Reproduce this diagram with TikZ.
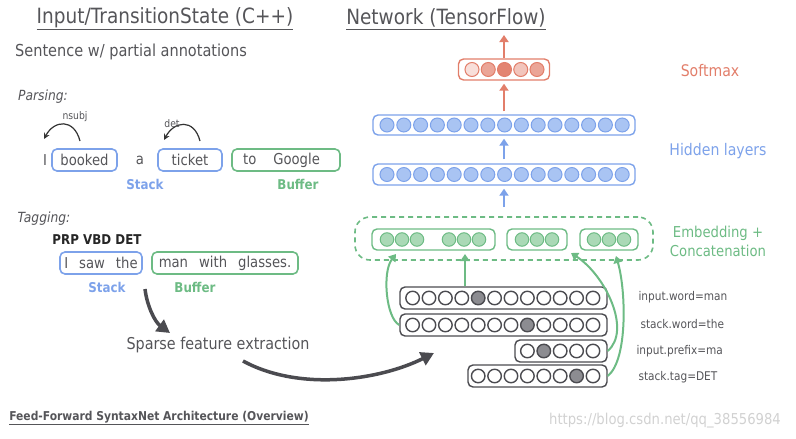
\documentclass[tikz,border=0pt]{standalone}
\usepackage{fontspec}
\setmainfont{DejaVu Sans}[FakeStretch=0.88]
\usetikzlibrary{arrows.meta}
\definecolor{txtgray}{HTML}{555559}
\definecolor{sblue}{HTML}{7DA2EA}
\definecolor{sbluefill}{HTML}{A9C4F3}
\definecolor{sgreen}{HTML}{6DBB84}
\definecolor{sgreenfill}{HTML}{AAD9B6}
\definecolor{sred}{HTML}{E27E6A}
\definecolor{dgray}{HTML}{4B4B50}
\definecolor{hot}{HTML}{8C8C91}

\begin{document}
\begin{tikzpicture}[x=1pt,y=-1pt]
      \tikzstyle{titre}=[text=txtgray, font=\fontsize{21}{24}\selectfont]
      \tikzstyle{plain}=[text=txtgray, font=\fontsize{15}{18}\selectfont]
      \tikzstyle{mot}=[text=txtgray, font=\fontsize{15}{18}\selectfont, inner sep=0pt]
      \tikzstyle{stackbox}=[draw=sblue, line width=1.6pt, rounded corners=5pt, minimum height=22pt, inner sep=0pt, text=txtgray, font=\fontsize{15}{18}\selectfont]
      \tikzstyle{bufbox}=[stackbox, draw=sgreen]
      \tikzstyle{role}=[font=\bfseries\fontsize{13.5}{16}\selectfont]
      \tikzstyle{layer}=[draw, line width=1.4pt, rounded corners=5pt, inner sep=0pt]
      \tikzstyle{neuron}=[circle, draw, line width=1pt, minimum size=14pt, inner sep=0pt]
      \tikzstyle{onehot}=[neuron, draw=dgray, line width=1.4pt, minimum size=13.5pt]
      \tikzstyle{feat}=[anchor=west, text=txtgray, font=\fontsize{12}{14}\selectfont]
      \tikzstyle{upblue}=[-{Triangle[length=7pt,width=9pt]}, line width=2pt, draw=sblue]
      \tikzstyle{upred}=[upblue, draw=sred]
      \tikzstyle{upgreen}=[upblue, draw=sgreen]
      \tikzstyle{grosse}=[-{Triangle[length=13pt,width=14pt]}, line width=3.5pt, draw=dgray]
      \tikzstyle{dep}=[-{Stealth[length=6pt,width=6pt]}, line width=1.2pt, draw=black!80]

      \useasboundingbox (0,0) rectangle (796,439);

      % left side: sentence
      \node[titre] (InTitle) at (165,19) {\underline{Input/TransitionState (C++)}};
      \node[plain, font=\fontsize{16.5}{19}\selectfont] (Sent) at (131,52) {Sentence w/ partial annotations};
      \node[plain, font=\itshape\fontsize{14}{17}\selectfont] (Pars) at (43,97) {Parsing:};

      \node[mot] (I1) at (45,160) {I};
      \node[stackbox, minimum width=65pt] (Booked) at (84.5,160) {booked};
      \node[mot] (A1) at (140,160) {a};
      \node[stackbox, minimum width=64pt] (Ticket) at (190,160) {ticket};
      \node[bufbox, minimum width=108pt] (ToGoogle) at (286,160) {\hspace{-9pt}to\hspace{17pt}Google};
      \node[role, text=sblue] (Stack1) at (145,184) {Stack};
      \node[role, text=sgreen] (Buffer1) at (298,184) {Buffer};

      \coordinate (nsA) at (80,141);
      \coordinate (nsB) at (44,139);
      \coordinate (detA) at (200,141);
      \coordinate (detB) at (164,140);
      \draw[dep] (nsA) .. controls (74,118) and (54,120) .. (nsB);
      \draw[dep] (detA) .. controls (194,118) and (174,121) .. (detB);
      \node[text=txtgray, font=\fontsize{10.5}{12}\selectfont] (Nsubj) at (75,117) {nsubj};
      \node[text=txtgray, font=\fontsize{10.5}{12}\selectfont] (Det) at (172,124) {det};

      \node[plain, font=\itshape\fontsize{14}{17}\selectfont] (Tagg) at (44,219) {Tagging:};
      \node[font=\bfseries\fontsize{13.5}{16}\selectfont, text=black!85] (Tags) at (97,240) {PRP VBD DET};
      \node[stackbox, minimum width=82pt] (ISaw) at (101,263) {I\hspace{11pt}saw\hspace{11pt}the};
      \node[bufbox, minimum width=146pt] (ManWith) at (225,263) {man\hspace{11pt}with\hspace{11pt}glasses.};
      \node[role, text=sblue] (Stack2) at (107,287) {Stack};
      \node[role, text=sgreen] (Buffer2) at (195,287) {Buffer};

      \node[plain, font=\fontsize{16.3}{19}\selectfont] (Sparse) at (218,345) {Sparse feature extraction};
      \coordinate (sp1) at (145,289);
      \coordinate (sp2) at (170,333);
      \coordinate (sp3) at (243,361);
      \coordinate (sp4) at (434,353);
      \draw[grosse] (sp1) .. controls (147,306) and (155,322) .. (sp2);
      \draw[grosse] (sp3) .. controls (300,392) and (380,380) .. (sp4);

      \node[font=\bfseries\fontsize{12.2}{14}\selectfont, text=txtgray] (Foot) at (159,418) {\underline{Feed-Forward SyntaxNet Architecture (Overview)}};

      % right side: network
      \node[titre] (NetTitle) at (446,19) {\underline{Network (TensorFlow)}};

      \node[layer, draw=sred, minimum width=91pt, minimum height=21pt] (Soft) at (504,69.5) {};
      \foreach \i/\c in {0/sred!25, 1/sred!70, 2/sred!95, 3/sred!45, 4/sred!70}
        \node[neuron, draw=sred, fill=\c] (s-\i) at (472+16.25*\i,69.5) {};

      \node[layer, draw=sblue, minimum width=262pt, minimum height=20pt] (Hid1) at (504,125) {};
      \node[layer, draw=sblue, minimum width=262pt, minimum height=21pt] (Hid2) at (504,174.5) {};
      \foreach \i in {0,...,14} {
        \node[neuron, draw=sblue, fill=sbluefill] (ha-\i) at (387+16.8*\i,125) {};
        \node[neuron, draw=sblue, fill=sbluefill] (hb-\i) at (387+16.8*\i,174.5) {};
      }

      \node[layer, draw=sgreen, dashed, dash pattern=on 5pt off 4pt, line width=1.6pt, rounded corners=15pt, minimum width=298pt, minimum height=43pt] (Embed) at (504,238.5) {};
      \node[layer, draw=sgreen, minimum width=123pt, minimum height=21pt] (Emb1) at (433.5,239.5) {};
      \node[layer, draw=sgreen, minimum width=60pt, minimum height=21pt] (Emb2) at (537,239.5) {};
      \node[layer, draw=sgreen, minimum width=58pt, minimum height=21pt] (Emb3) at (609,239.5) {};
      \foreach \x [count=\k] in {387,402,417,449,464,479,522,537,552,594,609,624}
        \node[neuron, draw=sgreen, fill=sgreenfill, minimum size=13.5pt] (e-\k) at (\x,239.5) {};

      \coordinate (top) at (504,35);
      \draw[upred] (Soft) -- (top);
      \draw[upred, shorten <=3pt, shorten >=3pt] (Hid1) -- (Soft);
      \draw[upblue, shorten <=4pt, shorten >=3pt] (Hid2) -- (Hid1);
      \draw[upblue, shorten <=9pt, shorten >=3pt] (Embed) -- (Hid2);

      \node[font=\fontsize{16}{19}\selectfont, text=sred] (SoftLab) at (710,71) {Softmax};
      \node[font=\fontsize{16}{19}\selectfont, text=sblue] (HidLab) at (718,151) {Hidden layers};
      \node[font=\fontsize{15}{19}\selectfont, text=sgreen, align=center] (EmbLab) at (718,241) {Embedding +\\Concatenation};

      % sparse features
      \node[layer, draw=dgray, minimum width=207pt, minimum height=22pt] (R1) at (503.5,298) {};
      \node[layer, draw=dgray, minimum width=207pt, minimum height=22pt] (R2) at (503.5,325) {};
      \node[layer, draw=dgray, minimum width=92pt, minimum height=22pt] (R3) at (561,351) {};
      \node[layer, draw=dgray, minimum width=139pt, minimum height=22pt] (R4) at (537.5,376) {};
      \foreach \i in {1,...,12}{
        \ifnum\i=5 \def\fc{hot}\else\def\fc{white}\fi
        \node[onehot, fill=\fc] (ra-\i) at (593-16.4*12+16.4*\i,298) {};
        \ifnum\i=8 \def\fc{hot}\else\def\fc{white}\fi
        \node[onehot, fill=\fc] (rb-\i) at (593-16.4*12+16.4*\i,325) {};
      }
      \foreach \i in {1,...,5}{
        \ifnum\i=2 \def\fc{hot}\else\def\fc{white}\fi
        \node[onehot, fill=\fc] (rc-\i) at (593-16.4*5+16.4*\i,351) {};
      }
      \foreach \i in {1,...,8}{
        \ifnum\i=7 \def\fc{hot}\else\def\fc{white}\fi
        \node[onehot, fill=\fc] (rd-\i) at (593-16.4*8+16.4*\i,376) {};
      }
      \node[feat] (F1) at (635,297) {input.word=man};
      \node[feat] (F2) at (637,324) {stack.word=the};
      \node[feat] (F3) at (633,351) {input.prefix=ma};
      \node[feat] (F4) at (635,377) {stack.tag=DET};

      \coordinate (t1) at (396,254);
      \coordinate (t2) at (465,254);
      \coordinate (t3) at (571,253);
      \coordinate (t4) at (616,256);
      \draw[upgreen] (R1.north -| t2) -- (t2);
      \draw[upgreen] (R2.west) .. controls (386,318) and (382,272) .. (t1);
      \draw[upgreen] (R3.east) .. controls (632,330) and (605,275) .. (t3);
      \draw[upgreen] (R4.east) .. controls (628,360) and (626,290) .. (t4);

      \node[text=black!18, font=\fontsize{15}{18}\selectfont] (Mark) at (665,421) {https://blog.csdn.net/qq\_38556984};

    \end{tikzpicture}
\end{document}
